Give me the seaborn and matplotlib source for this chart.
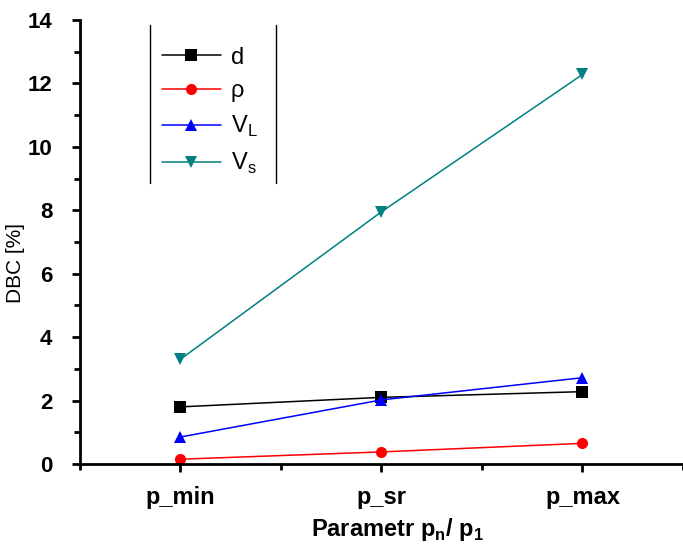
import matplotlib
matplotlib.use("Agg")
import matplotlib.pyplot as plt
import seaborn as sns
import pandas as pd
from matplotlib.lines import Line2D
from matplotlib.ticker import MultipleLocator

categories = ["p_min", "p_sr", "p_max"]
d_vals = [1.8, 2.1, 2.28]
rho_vals = [0.15, 0.38, 0.65]
vl_vals = [0.85, 2.02, 2.72]
vs_vals = [3.3, 7.95, 12.28]
series_names = ["d", "ρ", "V$_\\mathregular{L}$", "V$_\\mathregular{s}$"]

rows = []
for name, vals in zip(series_names, [d_vals, rho_vals, vl_vals, vs_vals]):
    for c, v in zip(categories, vals):
        rows.append({"cat": c, "val": v, "series": name})
df = pd.DataFrame(rows)

sns.set_style("ticks")
plt.rcParams["font.family"] = ["Liberation Sans", "DejaVu Sans"]
plt.rcParams["mathtext.fontset"] = "custom"
plt.rcParams["mathtext.rm"] = "Liberation Sans"
plt.rcParams["text.color"] = "black"
plt.rcParams["axes.labelcolor"] = "black"
plt.rcParams["xtick.color"] = "black"
plt.rcParams["ytick.color"] = "black"
plt.rcParams["axes.edgecolor"] = "black"

fig = plt.figure(figsize=(6.83, 5.53), dpi=100)
ax = fig.add_axes([0.117, 0.161, 0.883, 0.803])

palette = {series_names[0]: "black", series_names[1]: "#ff0000",
           series_names[2]: "#0000ff", series_names[3]: "#008080"}
markers = {series_names[0]: "s", series_names[1]: "o",
           series_names[2]: "^", series_names[3]: "v"}

sns.lineplot(data=df, x="cat", y="val", hue="series", style="series",
             palette=palette, markers=markers, dashes=False, markersize=8,
             markeredgewidth=0, linewidth=1.1, ax=ax, legend=False, sort=False)

ax.set_xlim(-0.5, 2.5)
ax.set_ylim(0, 14)
ax.yaxis.set_major_locator(MultipleLocator(2))
ax.yaxis.set_minor_locator(MultipleLocator(1))
ax.xaxis.set_minor_locator(MultipleLocator(0.5))
ax.set_xticks(range(len(categories)))
ax.set_xticklabels(categories)
for side in ["top", "right"]:
    ax.spines[side].set_visible(False)
for side in ["left", "bottom"]:
    ax.spines[side].set_linewidth(2)
ax.tick_params(which="major", length=6, width=2)
ax.tick_params(which="minor", length=4, width=2)
ax.tick_params(axis="y", which="major", labelsize=16, pad=14)
ax.tick_params(axis="x", which="major", labelsize=17, pad=10)
for lab in ax.get_xticklabels() + ax.get_yticklabels():
    lab.set_fontweight("bold")

ax.set_ylabel("DBC [%]", fontsize=15)
ax.yaxis.set_label_coords(-0.091, 0.453)
ax.set_xlabel("Parametr p$_\\mathregular{n}$/ p$_\\mathregular{1}$", fontsize=17,
              fontweight="bold")
ax.xaxis.set_label_coords(0.526, -0.117)

handles = [Line2D([0], [0], color=palette[n], marker=markers[n], markersize=8,
                  markeredgewidth=0, linewidth=1.1) for n in series_names]
leg = ax.legend(handles, series_names, loc="upper left",
                bbox_to_anchor=(0.136, 0.94), frameon=False, fontsize=17,
                handlelength=2.5, labelspacing=0.5, handletextpad=0.42,
                borderpad=0, borderaxespad=0)

# legend box side lines
fig.add_artist(Line2D([150 / 683, 150 / 683], [1 - 25 / 553, 1 - 183 / 553],
                      color="black", linewidth=1))
fig.add_artist(Line2D([276 / 683, 276 / 683], [1 - 25 / 553, 1 - 183 / 553],
                      color="black", linewidth=1))

fig.savefig("out.png", dpi=100)
